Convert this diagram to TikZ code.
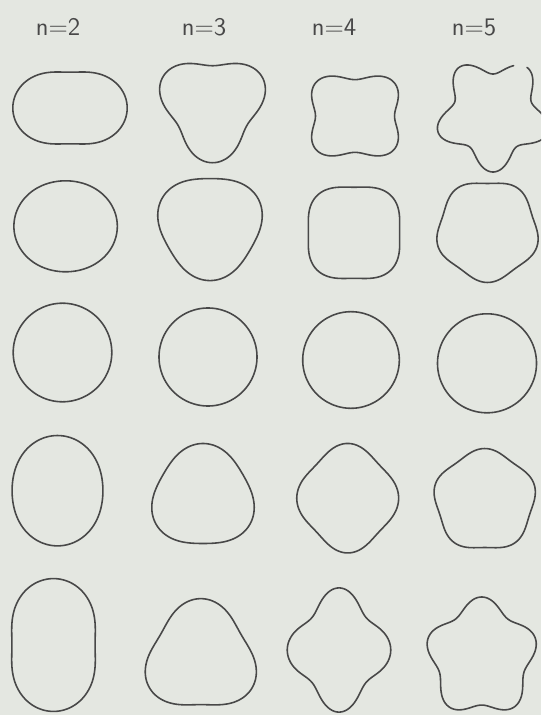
\documentclass[tikz,border=0pt]{standalone}
\usetikzlibrary{positioning}
\definecolor{paper}{RGB}{228,231,225}
\definecolor{ink}{RGB}{72,72,72}

\begin{document}
\begin{tikzpicture}[
  x=0.02cm, y=-0.02cm,
  font=\sffamily\Large,
  head/.style={text=ink, inner sep=1pt},
  contour/.style={draw=ink, line width=0.9pt, line join=round, line cap=round}
]
\useasboundingbox (0,0) rectangle (541,715);
\fill[paper] (0,0) rectangle (541,715);
\clip (0,0) rectangle (541,715);

% column headings
\node[head] (n2) at (58,27) {n=2};
\node[head] (n3) at (204,27) {n=3};
\node[head] (n4) at (334,27) {n=4};
\node[head] (n5) at (474,27) {n=5};

% outlines: centre x / centre y / mode / radius / amplitude / y-stretch / from / to
\foreach \cx/\cy/\md/\rad/\amp/\ys/\from/\upto in {
  70/108/2/46.5/-0.23/1/0/360,
  65.6/226.3/2/48.6/-0.064/1/0/360,
  62.5/352.5/2/49.3/0/1/0/360,
  57.5/490.7/2/50.3/0.097/1/0/360,
  53.5/645/2/54/0.23/1/0/360,
  212.5/105.5/3/48.5/-0.18/1/0/360,
  210/225.5/3/51/-0.08/1/0/360,
  208/357/3/49/0/1/0/360,
  203/497.5/3/50/0.08/1/0/360,
  200.8/658/3/53/0.12/1/0/360,
  355/116/4/46.5/-0.15/0.92/0/360,
  354/232.8/4/49/-0.07/1/0/360,
  351/360/4/48.3/0/1/0/360,
  347.7/498.2/4/47.6/0.07/1.075/0/360,
  339/650/4/45/0.15/1.2/0/360,
  493/114.2/5/49/-0.18/1/67/414,
  487.5/230.5/5/49.5/-0.05/1/0/360,
  487/363.3/5/49.5/0/1/0/360,
  484.7/500.5/5/49.5/0.05/1/0/360,
  481.7/657.5/5/50.5/0.12/1.07/0/360}
  \draw[contour] plot[domain=\from:\upto, samples=200, smooth]
    ({\cx + \rad*(1+\amp*cos(\md*(\x-90)))*cos(\x)},
     {\cy - \ys*\rad*(1+\amp*cos(\md*(\x-90)))*sin(\x)});
\end{tikzpicture}
\end{document}
